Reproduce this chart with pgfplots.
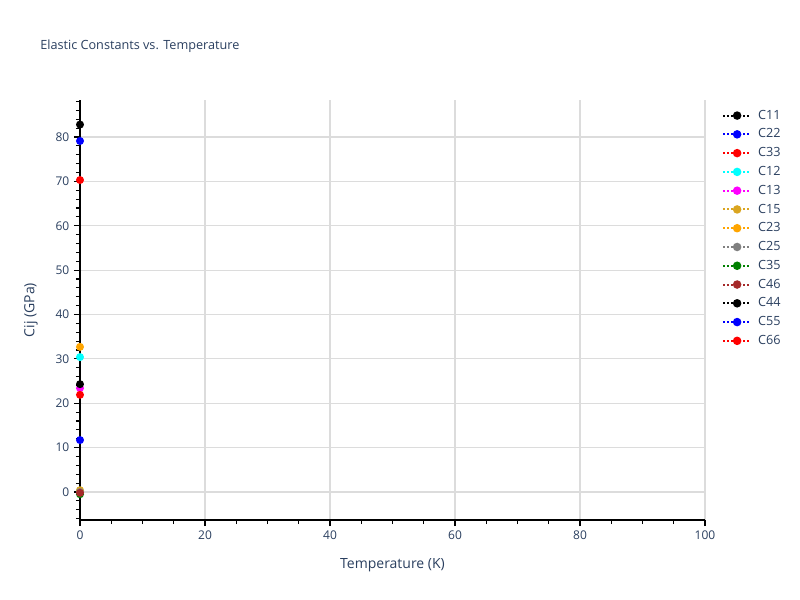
\documentclass[border=0pt]{standalone}
\usepackage{pgfplots}
\pgfplotsset{compat=1.18}
\usepackage{fontspec}
\setmainfont{Open Sans}
\definecolor{plotlytext}{HTML}{2A3F5F}
\definecolor{gridc}{HTML}{DCDCDC}
\definecolor{goldc}{HTML}{DAA520}
\definecolor{orangec}{HTML}{FFA500}
\definecolor{brownc}{HTML}{A52A2A}
\definecolor{greenc}{HTML}{008000}
\definecolor{cyanc}{HTML}{00FFFF}
\definecolor{magentac}{HTML}{FF00FF}

\begin{document}
\begin{tikzpicture}
\path[use as bounding box] (0pt,0pt) rectangle (600pt,450pt);
\node[anchor=base west, font=\fontsize{9.5}{11}\selectfont, text=plotlytext, inner sep=0pt] at (30pt,413pt) {Elastic Constants vs. Temperature};
\begin{axis}[
    at={(60pt,60pt)}, anchor=south west,
    width=468.75pt, height=315pt, scale only axis,
    xmin=0, xmax=100, ymin=-6.31, ymax=88.34,
    axis x line*=bottom, axis y line*=left,
    axis line style={black, line width=0.9pt},
    xtick={0,20,...,100}, minor xtick={5,10,...,95},
    ytick={0,10,...,80}, minor ytick={-6,-4,...,88},
    tick align=outside, tick pos=left,
    major tick length=4.5pt, minor tick length=3pt,
    tick style={black, line width=0.8pt},
    grid=major, major grid style={gridc, line width=0.8pt},
    minor grid style={draw=none},
    extra y ticks={0}, extra y tick labels={},
    extra y tick style={grid style={draw=gray!35, line width=1.5pt}, major tick length=0pt},
    /pgf/number format/assume math mode=true,
    ticklabel style={font=\fontsize{9}{10}\selectfont, text=plotlytext},
    xlabel={Temperature (K)}, ylabel={Cij (GPa)},
    label style={font=\fontsize{10.5}{12}\selectfont, text=plotlytext},
    xlabel style={yshift=-7pt},
    ylabel style={yshift=2pt},
    legend style={at={(1.027,0.98)}, anchor=north west, draw=none, fill=none,
        font=\fontsize{9.5}{11}\selectfont, text=plotlytext,
        row sep=3.7pt, inner sep=0pt,
        nodes={inner xsep=4.5pt, inner ysep=1pt}},
    legend cell align=left,
    legend image code/.code={
        \draw[#1, line width=1.5pt, dash pattern=on 1.5pt off 1.5pt] (0pt,0pt) -- (21pt,0pt);
        \fill[#1, solid] (10.5pt,0pt) circle (2.4pt);},
    every axis plot/.append style={densely dotted, line width=1.5pt, mark=*, mark size=2.2pt, mark options={solid}},
]
\addplot[black] coordinates {(0,82.8)};
\addlegendentry{C11}
\addplot[blue] coordinates {(0,79.1)};
\addlegendentry{C22}
\addplot[red] coordinates {(0,70.3)};
\addlegendentry{C33}
\addplot[cyanc] coordinates {(0,30.4)};
\addlegendentry{C12}
\addplot[magentac] coordinates {(0,23.4)};
\addlegendentry{C13}
\addplot[goldc] coordinates {(0,0.4)};
\addlegendentry{C15}
\addplot[orangec] coordinates {(0,32.7)};
\addlegendentry{C23}
\addplot[gray] coordinates {(0,0.0)};
\addlegendentry{C25}
\addplot[greenc] coordinates {(0,-0.5)};
\addlegendentry{C35}
\addplot[brownc] coordinates {(0,-0.2)};
\addlegendentry{C46}
\addplot[black] coordinates {(0,24.3)};
\addlegendentry{C44}
\addplot[blue] coordinates {(0,11.7)};
\addlegendentry{C55}
\addplot[red] coordinates {(0,21.9)};
\addlegendentry{C66}
\end{axis}
\end{tikzpicture}
\end{document}
